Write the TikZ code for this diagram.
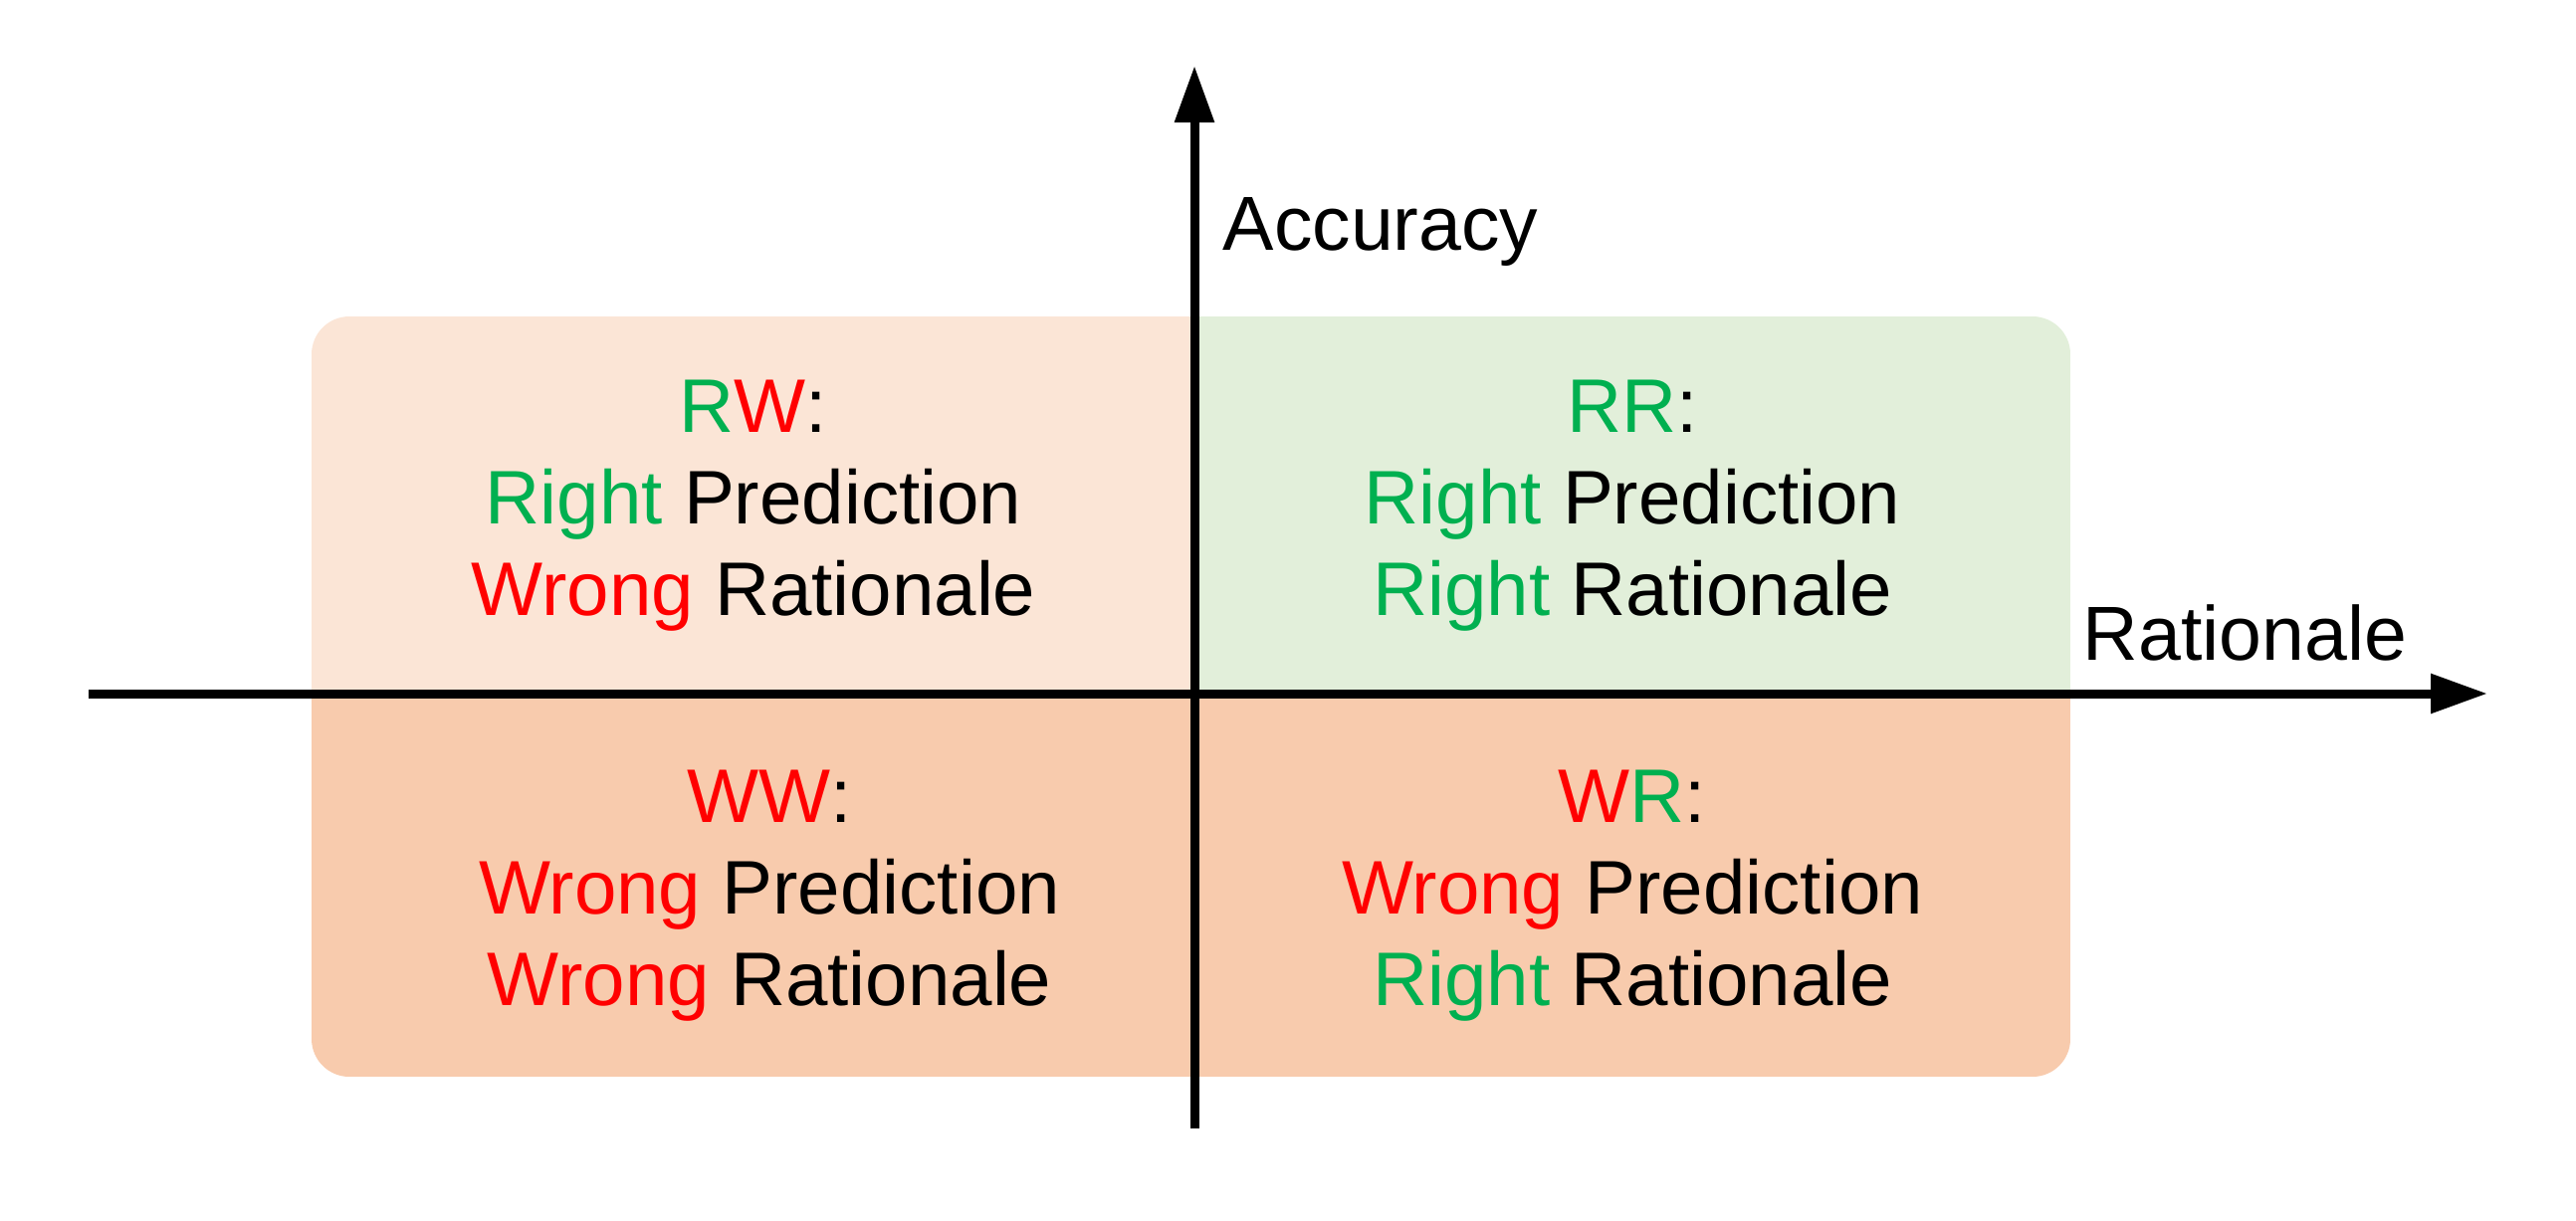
\documentclass[tikz,border=0pt]{standalone}
\usepackage{fontspec}
\setmainfont{Liberation Sans}
\usetikzlibrary{arrows.meta}
\definecolor{qpeachlight}{HTML}{FBE5D6}
\definecolor{qgreenlight}{HTML}{E2EFDA}
\definecolor{qpeach}{HTML}{F8CBAD}
\definecolor{qgreen}{HTML}{00B050}
\definecolor{qred}{HTML}{FF0000}
\begin{document}
\begin{tikzpicture}[x=0.01cm,y=-0.01cm,
  lbl/.style={anchor=base, inner sep=0pt, font=\fontsize{21.7}{26}\selectfont},
  axislbl/.style={anchor=base west, inner sep=0pt, font=\fontsize{21.9}{26}\selectfont},
  axisline/.style={line width=0.09cm, -{Triangle[length=0.57cm,width=0.38cm]}}]
\useasboundingbox (0,0) rectangle (2588,1226);
\begin{scope}
\clip[rounded corners=0.38cm] (313,318) rectangle (2080,1082);
\fill[qpeachlight] (313,318) rectangle (1200,697);
\fill[qgreenlight] (1200,318) rectangle (2080,697);
\fill[qpeach] (313,697) rectangle (2080,1082);
\end{scope}
% quadrant texts
\node[lbl] (rw1) at (757,434) {\textcolor{qgreen}{R}\textcolor{qred}{W}:};
\node[lbl] (rw2) at (757,526) {\textcolor{qgreen}{Right} Prediction};
\node[lbl] (rw3) at (757,618) {\textcolor{qred}{Wrong} Rationale};
\node[lbl] (rr1) at (1640,434) {\textcolor{qgreen}{RR}:};
\node[lbl] (rr2) at (1640,526) {\textcolor{qgreen}{Right} Prediction};
\node[lbl] (rr3) at (1640,618) {\textcolor{qgreen}{Right} Rationale};
\node[lbl] (ww1) at (773,826) {\textcolor{qred}{WW}:};
\node[lbl] (ww2) at (773,918) {\textcolor{qred}{Wrong} Prediction};
\node[lbl] (ww3) at (773,1010) {\textcolor{qred}{Wrong} Rationale};
\node[lbl] (wr1) at (1640,826) {\textcolor{qred}{W}\textcolor{qgreen}{R}:};
\node[lbl] (wr2) at (1640,918) {\textcolor{qred}{Wrong} Prediction};
\node[lbl] (wr3) at (1640,1010) {\textcolor{qgreen}{Right} Rationale};
% axes
\coordinate (xs) at (89,697);
\coordinate (xe) at (2499,697);
\coordinate (ys) at (1200,1134);
\coordinate (ye) at (1200,66);
\draw[axisline] (xs) -- (xe);
\draw[axisline] (ys) -- (ye);
\node[axislbl] (acc) at (1228,251) {Accuracy};
\node[axislbl] (rat) at (2092,663) {Rationale};
\end{tikzpicture}
\end{document}
